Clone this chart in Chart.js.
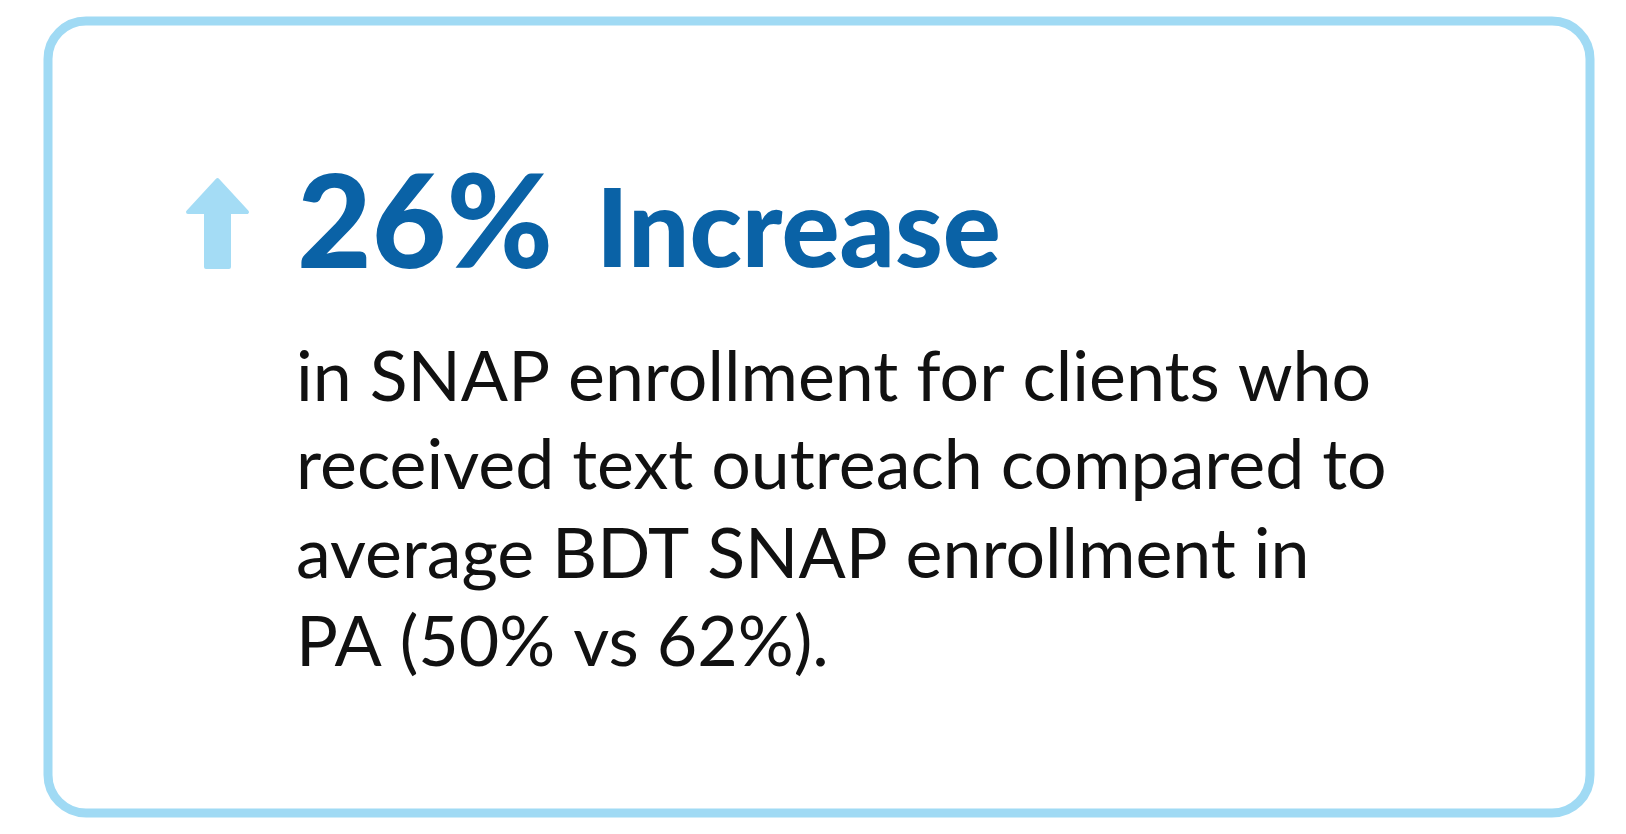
<!DOCTYPE html>
<html>
<head>
<meta charset="utf-8">
<script src="https://cdn.jsdelivr.net/npm/chart.js@4.4.1/dist/chart.umd.min.js"></script>
<style>
  html, body { margin: 0; padding: 0; background: #ffffff; }
  #wrap { width: 1626px; height: 834px; position: relative; }
</style>
</head>
<body>
<div id="wrap"><canvas id="c"></canvas></div>
<script>
// ---- data ----
const headlineValue = ["26%"];
const headlineLabel = ["Increase"];
const comparison = [50, 62];
const bodyLines = [
  "in SNAP enrollment for clients who",
  "received text outreach compared to",
  "average BDT SNAP enrollment in",
  "PA (" + comparison[0] + "% vs " + comparison[1] + "%)."
];

// ---- styles ----
const BORDER = '#a0daf4';
const ARROW = '#a4dcf5';
const BLUE = '#0a62a6';
const TEXT = '#111111';
const FAMILY = 'Lato, "Open Sans", "DejaVu Sans", sans-serif';

function fitSize(ctx, text, weight, targetW) {
  ctx.font = weight + ' 100px ' + FAMILY;
  return 100 * targetW / ctx.measureText(text).width;
}

function roundRectPath(ctx, x, y, w, h, r) {
  ctx.beginPath();
  ctx.moveTo(x + r, y);
  ctx.lineTo(x + w - r, y);
  ctx.arcTo(x + w, y, x + w, y + r, r);
  ctx.lineTo(x + w, y + h - r);
  ctx.arcTo(x + w, y + h, x + w - r, y + h, r);
  ctx.lineTo(x + r, y + h);
  ctx.arcTo(x, y + h, x, y + h - r, r);
  ctx.lineTo(x, y + r);
  ctx.arcTo(x, y, x + r, y, r);
  ctx.closePath();
}

const cardPlugin = {
  id: 'card',
  beforeDraw(chart) {
    const ctx = chart.ctx;
    ctx.save();
    ctx.fillStyle = '#ffffff';
    ctx.fillRect(0, 0, chart.width, chart.height);

    // card border
    roundRectPath(ctx, 48, 21, 1542, 792, 38);
    ctx.lineWidth = 9;
    ctx.strokeStyle = BORDER;
    ctx.stroke();

    // up arrow
    ctx.beginPath();
    ctx.moveTo(217.5, 180);
    ctx.lineTo(247, 212);
    ctx.lineTo(229, 212);
    ctx.lineTo(229, 267);
    ctx.lineTo(206, 267);
    ctx.lineTo(206, 212);
    ctx.lineTo(188, 212);
    ctx.closePath();
    ctx.fillStyle = ARROW;
    ctx.strokeStyle = ARROW;
    ctx.lineJoin = 'round';
    ctx.lineWidth = 4;
    ctx.fill();
    ctx.stroke();

    // headline
    ctx.textBaseline = 'alphabetic';
    ctx.textAlign = 'left';
    ctx.fillStyle = BLUE;
    const s1 = fitSize(ctx, headlineValue[0], '900', 256);
    ctx.font = '900 ' + s1 + 'px ' + FAMILY;
    ctx.fillText(headlineValue[0], 297, 268);
    const s2 = fitSize(ctx, headlineLabel[0], '900', 405);
    ctx.font = '900 ' + s2 + 'px ' + FAMILY;
    ctx.fillText(headlineLabel[0], 596, 267);

    // body: size chosen so the first three lines match the reference widths overall
    ctx.fillStyle = TEXT;
    const bs = fitSize(ctx, bodyLines.slice(0, 3).join(''), '400', 3180);
    ctx.font = '400 ' + bs + 'px ' + FAMILY;
    const baselines = [401, 489, 578, 666];
    bodyLines.forEach((line, i) => ctx.fillText(line, 296, baselines[i]));
    ctx.restore();
  }
};

function build() {
  new Chart(document.getElementById('c'), {
    type: 'bar',
    data: { labels: [], datasets: [] },
    options: {
      responsive: true,
      maintainAspectRatio: false,
      animation: false,
      events: [],
      layout: { padding: 0 },
      plugins: { legend: { display: false }, tooltip: { enabled: false }, title: { display: false } },
      scales: { x: { display: false }, y: { display: false } }
    },
    plugins: [cardPlugin]
  });
}

Promise.all([
  document.fonts.load('900 100px Lato'),
  document.fonts.load('400 100px Lato')
]).then(build, build);
</script>
</body>
</html>
